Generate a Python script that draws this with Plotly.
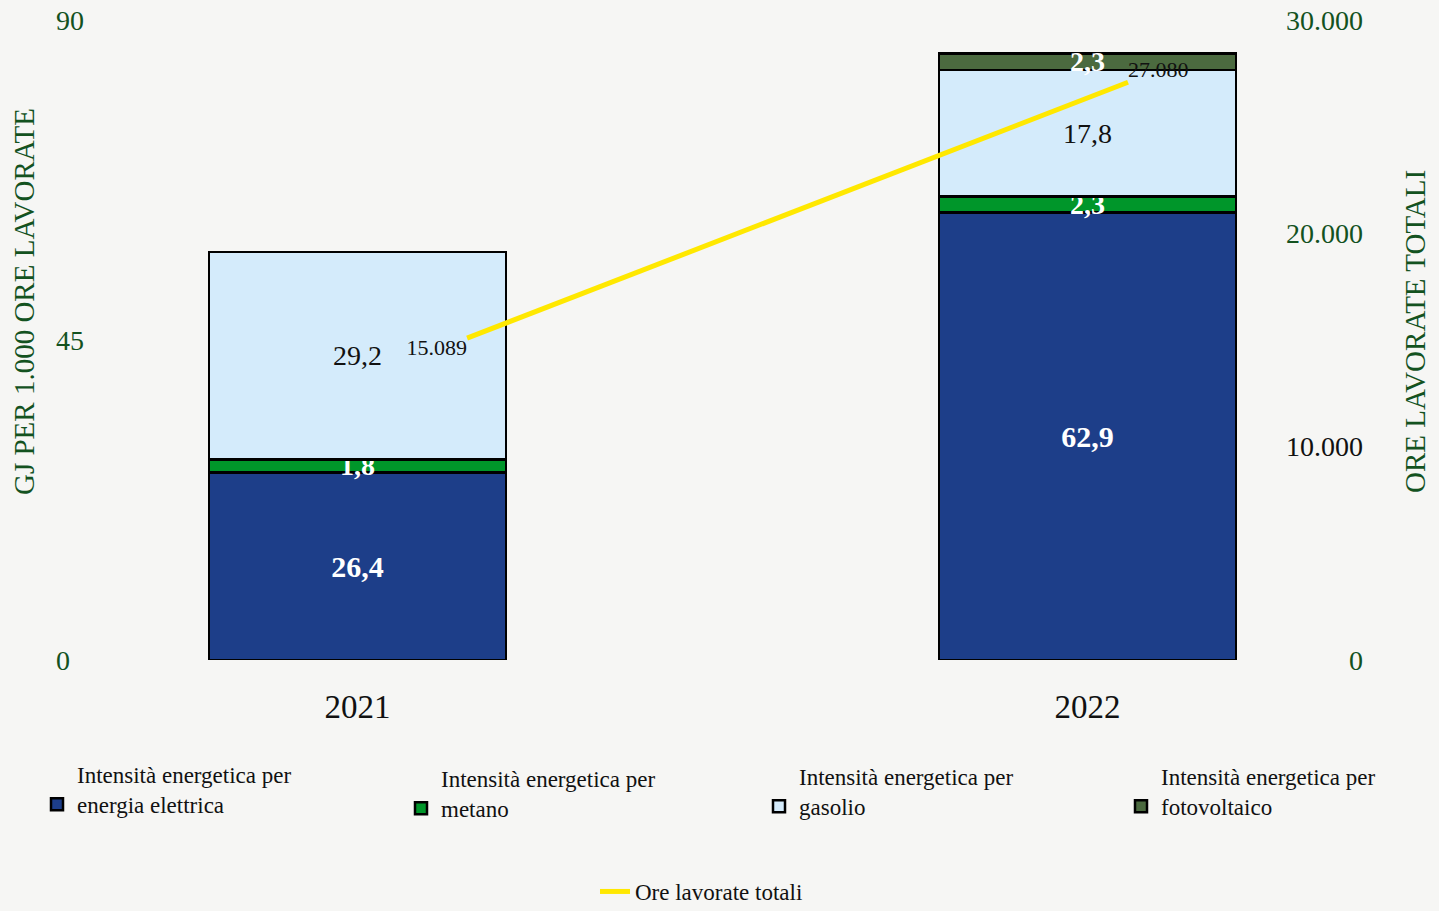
import plotly.graph_objects as go

# ---- data ----
years = ["2021", "2022"]
elettrica = [26.4, 62.9]
metano = [1.8, 2.3]
gasolio = [29.2, 17.8]
fotovoltaico = [None, 2.3]
ore_lavorate = [15089, 27080]

series_names = [
    "Intensità energetica per<br>energia elettrica",
    "Intensità energetica per<br>metano",
    "Intensità energetica per<br>gasolio",
    "Intensità energetica per<br>fotovoltaico",
]
line_name = "Ore lavorate totali"

left_tickvals = [0, 45, 90]
left_ticktext = ["0\u2007", "45", "90"]
right_tickvals = [0, 10000, 20000, 30000]
right_ticktext = ["\u2007\u2007\u2008\u2007\u20070",
                  '<span style="color:#111111">10.000</span>',
                  "20.000", "30.000"]

left_title = "GJ PER 1.000 ORE LAVORATE"
right_title = "ORE LAVORATE TOTALI"

# ---- styles ----
FONT = "Liberation Serif"
GREEN_TXT = "#13521f"
BG = "#f6f6f4"
W, H = 1439, 911
colors = ["#1d3e89", "#00962a", "#d4ebfb", "#4b6a3f"]
text_colors = ["white", "white", "#111111", "white"]
text_weights = ["bold", "bold", "normal", "bold"]
text_sizes = [30, 28, 28, 28]
legend_ids = ["legend", "legend3", "legend4", "legend5"]
legend_x_px = [37, 401, 759, 1121]
legend_y_px = [753, 757, 755, 755]

fig = go.Figure()

for vals, name, col, tcol, tw, ts, lid in zip(
    [elettrica, metano, gasolio, fotovoltaico], series_names, colors,
    text_colors, text_weights, text_sizes, legend_ids):
    fig.add_trace(go.Bar(
        x=years, y=vals, name=name,
        marker=dict(color=col, line=dict(color="#000000", width=2.5)),
        width=0.407,
        texttemplate="%{y:.1f}",
        textposition="inside",
        insidetextanchor="middle",
        constraintext="none",
        textangle=0,
        textfont=dict(family=FONT, size=ts, color=tcol, weight=tw),
        legend=lid,
        showlegend=True,
        xaxis="x", yaxis="y",
    ))

fig.add_trace(go.Scatter(
    x=years, y=ore_lavorate, name=line_name,
    mode="lines+text",
    line=dict(color="#ffe800", width=5),
    texttemplate="%{y:,.0f}",
    textposition=["bottom left", "top right"],
    textfont=dict(family=FONT, size=22, color="#111111"),
    xaxis="x2", yaxis="y2",
    legend="legend2",
    showlegend=True,
    cliponaxis=False,
))

legend_style = dict(
    orientation="h", xref="container", yref="container",
    xanchor="left", yanchor="top",
    valign="bottom", bgcolor="rgba(0,0,0,0)",
    font=dict(family=FONT, size=23, color="#111111"),
    visible=True,
)
legends = {}
for lid, lx, ly in zip(legend_ids, legend_x_px, legend_y_px):
    legends[lid] = dict(legend_style, x=lx / W, y=1 - ly / H)
legends["legend2"] = dict(legend_style, x=595 / W, y=1 - 870 / H)

fig.update_layout(
    width=W, height=H,
    showlegend=True,
    barmode="stack",
    separators=",.",
    paper_bgcolor=BG, plot_bgcolor=BG,
    font=dict(family=FONT, color="#111111"),
    margin=dict(l=95, r=164, t=20, b=251, autoexpand=False),
    xaxis=dict(
        type="category", range=[-0.3597, 1.257],
        showgrid=False, zeroline=False, showline=False, automargin=False,
        ticks="", ticklabelstandoff=24,
        tickfont=dict(family=FONT, size=33, color="#111111"),
    ),
    xaxis2=dict(
        type="category", range=[-0.563, 1.2224],
        overlaying="x", visible=False, anchor="y2", automargin=False,
    ),
    yaxis=dict(
        range=[0, 90], tickvals=left_tickvals, ticktext=left_ticktext,
        showgrid=False, zeroline=False, showline=False, automargin=False,
        ticks="", ticklabelstandoff=10,
        tickfont=dict(family=FONT, size=28, color=GREEN_TXT),
    ),
    yaxis2=dict(
        range=[0, 30000], tickvals=right_tickvals, ticktext=right_ticktext,
        overlaying="y", side="right", anchor="x2", automargin=False,
        showgrid=False, zeroline=False, showline=False,
        ticks="", ticklabelstandoff=10,
        tickfont=dict(family=FONT, size=28, color=GREEN_TXT),
    ),
    annotations=[
        dict(text=left_title, xref="paper", yref="paper",
             x=(24 - 95) / 1180, y=(660 - 302) / 640, textangle=-90,
             showarrow=False, xanchor="center", yanchor="middle",
             font=dict(family=FONT, size=29, color=GREEN_TXT)),
        dict(text=right_title, xref="paper", yref="paper",
             x=(1415 - 95) / 1180, y=(660 - 332) / 640, textangle=-90,
             showarrow=False, xanchor="center", yanchor="middle",
             font=dict(family=FONT, size=29, color=GREEN_TXT)),
    ],
    **legends,
)

fig.write_html(
    "out.html",
    config={"displayModeBar": False},
    post_script="document.body.style.margin='0px';"
                "document.body.style.overflow='hidden';"
                "document.body.style.background='" + BG + "';",
)
